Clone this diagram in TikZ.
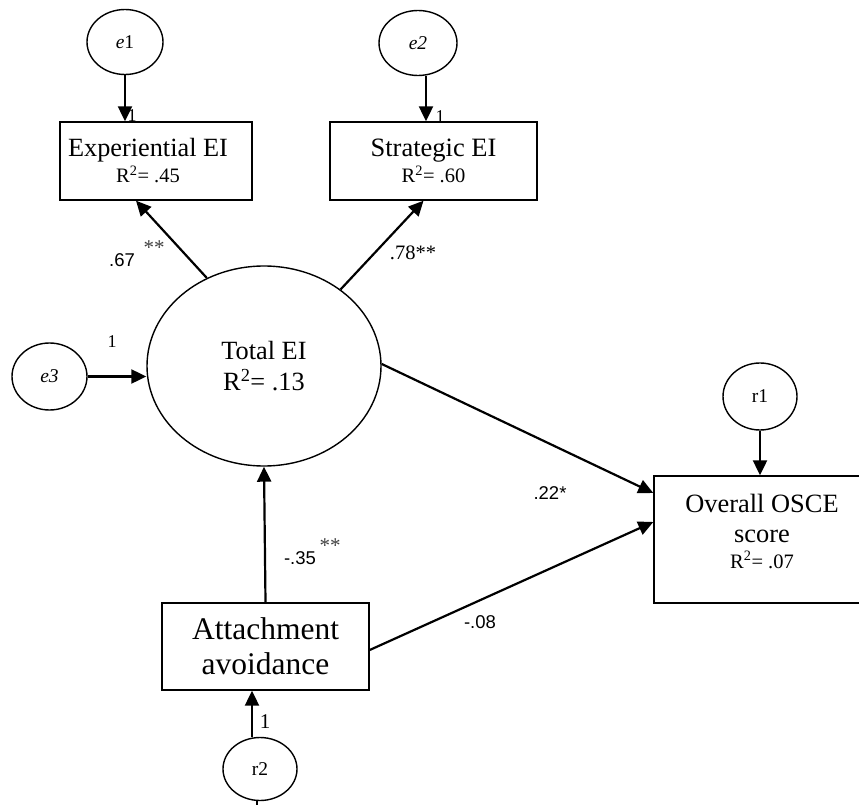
\documentclass[tikz,border=0pt]{standalone}
\usepackage{fontspec}
\setmainfont{Liberation Serif}
\newfontfamily\labelsans{Liberation Sans}
\usetikzlibrary{arrows.meta,shapes.geometric}
\begin{document}
\begin{tikzpicture}[x=1pt,y=-1pt,
  obsbox/.style={draw,line width=1.4pt,rectangle,inner sep=0pt},
  latent/.style={draw,line width=1.4pt,ellipse,inner sep=0pt},
  errvar/.style={latent,font=\fontsize{19.5}{22}\selectfont},
  pathline/.style={line width=2.2pt,-{Triangle[length=15pt,width=14pt]}},
  coef/.style={font=\labelsans\fontsize{18.5}{20}\selectfont,inner sep=0pt},
  stars/.style={font=\fontsize{21}{21}\selectfont,inner sep=0pt,text=black!75},
  fixed/.style={font=\fontsize{18}{18}\selectfont,inner sep=0pt}]
\clip (0,0) rectangle (859,805);

% error terms
\node[errvar,minimum width=76pt,minimum height=65pt] (e1) at (125,42) {\textit{e}1};
\node[errvar,minimum width=78pt,minimum height=65pt] (e2) at (418,43) {\textit{e2}};
\node[errvar,minimum width=75pt,minimum height=67pt] (e3) at (49.5,376.5) {\textit{e3}};
\node[errvar,minimum width=74pt,minimum height=67pt] (r1) at (760,396.5) {r1};
\node[errvar,minimum width=74pt,minimum height=63pt] (r2) at (260,769) {r2};

% indicators
\node[obsbox,minimum width=192pt,minimum height=78pt] (exp) at (156,161) {};
\node[align=center,inner sep=0pt,font=\fontsize{26.3}{26}\selectfont] (expText) at (148,161)
  {Experiential EI\\{\fontsize{20.5}{22}\selectfont R\textsuperscript{2}= .45}};
\node[obsbox,minimum width=207pt,minimum height=78pt,align=center,font=\fontsize{26.5}{26}\selectfont] (strat) at (433.5,161)
  {Strategic EI\\{\fontsize{20.5}{22}\selectfont R\textsuperscript{2}= .60}};

% latent construct
\node[latent,minimum width=234pt,minimum height=200pt,align=center,font=\fontsize{26.3}{31}\selectfont] (total) at (264,366)
  {Total EI\\R\textsuperscript{2}= .13};

% predictor and outcome
\node[obsbox,minimum width=207pt,minimum height=87pt,align=center,font=\fontsize{31.5}{35}\selectfont] (attach) at (265.5,646.5)
  {Attachment\\avoidance};
\node[obsbox,minimum width=216pt,minimum height=127pt] (osce) at (762,539.5) {};
\node[align=center,inner sep=0pt,font=\fontsize{26.4}{30}\selectfont] (osceText) at (762,531)
  {Overall OSCE\\score\\[-4pt]{\fontsize{20.5}{22}\selectfont R\textsuperscript{2}= .07}};

% error paths
\draw[pathline] (e1.south) -- (e1.south |- exp.north);
\draw[pathline] ([xshift=8pt]e2.south) -- ([xshift=8pt]e2.south |- strat.north);
\draw[pathline] (e3.east) -- (e3.east -| total.west);
\draw[pathline] (r1.south) -- (r1.south |- osce.north);
\draw[pathline] ([xshift=-8pt]r2.north) -- ([xshift=-8pt]r2.north |- attach.south);
\coordinate (r2tail) at (257,815);
\draw[line width=2.2pt] ([xshift=-3pt]r2.south) -- (r2tail);

% structural paths
\draw[pathline] (total.123.5) -- ([xshift=-20pt]exp.south);
\draw[pathline] (total.45.4) -- ([xshift=-10pt]strat.south);
\draw[pathline] (total.1.5) -- ([yshift=46.5pt]osce.west);
\draw[pathline] ([yshift=-3.5pt]attach.east) -- ([yshift=17.5pt]osce.west);
\draw[pathline] (attach.north) -- (total.south);

% fixed loadings
\node[fixed] (l1) at (132,116) {1};
\node[fixed] (l2) at (440,117) {1};
\node[fixed] (l3) at (112,342) {1};
\node[fixed,font=\fontsize{21}{21}\selectfont] (l4) at (265,722) {1};

% coefficients
\node[coef] (c67) at (122,260) {.67};
\node[stars] (s67) at (154,248) {**};
\node[inner sep=0pt,font=\fontsize{20.5}{22}\selectfont] (c78) at (413,253) {.78**};
\node[coef] (c22) at (550,493) {.22*};
\node[coef] (c08) at (480,622) {-.08};
\node[coef] (c35) at (300,558) {-.35};
\node[stars] (s35) at (330,546) {**};
\end{tikzpicture}
\end{document}
